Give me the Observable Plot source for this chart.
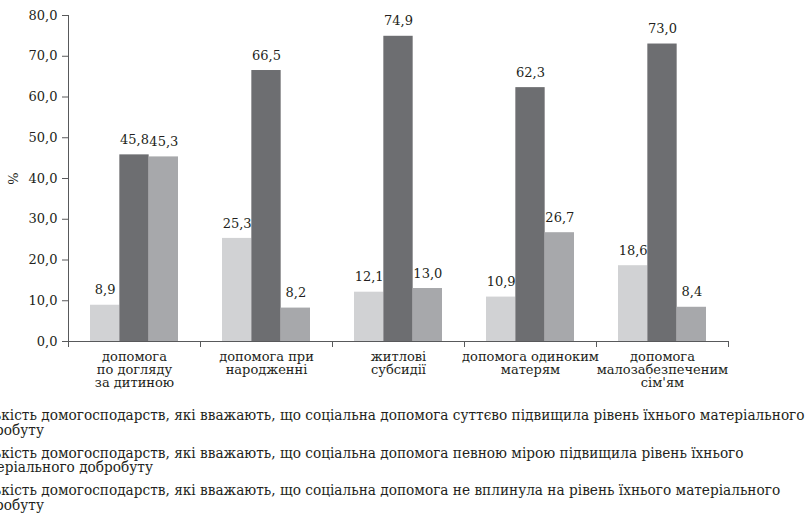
<!DOCTYPE html>
<html>
<head>
<meta charset="utf-8">
<script src="https://cdn.jsdelivr.net/npm/d3@7"></script>
<script src="https://cdn.jsdelivr.net/npm/@observablehq/plot@0.6"></script>
<style>
  html, body { margin: 0; padding: 0; background: #fff; overflow: hidden; width: 809px; height: 514px; }
  #chart svg { display: block; }
  #legend {
    position: relative;
    left: -28px;
    padding-top: 8px;
    font-family: "DejaVu Serif", "Liberation Serif", serif;
    font-size: 15px;
    line-height: 14.5px;
    color: #231f20;
    white-space: nowrap;
    transform: scaleX(0.912);
    transform-origin: 0 0;
  }
  #legend .item { display: flex; align-items: flex-start; margin-bottom: 8.5px; }
  #legend .sw { width: 12px; height: 12px; margin-right: 6px; margin-left: -20px; flex: none; }
</style>
</head>
<body>
<div id="chart"></div>
<div id="legend"></div>
<script>
// ---- data ----
const categories = [
  "допомога\nпо догляду\nза дитиною",
  "допомога при\nнародженні",
  "житлові\nсубсидії",
  "допомога одиноким\nматерям",
  "допомога\nмалозабезпеченим\nсім'ям"
];
const seriesNames = [
  "Кількість домогосподарств, які вважають, що соціальна допомога суттєво підвищила рівень їхнього матеріального\nдобробуту",
  "Кількість домогосподарств, які вважають, що соціальна допомога певною мірою підвищила рівень їхнього\nматеріального добробуту",
  "Кількість домогосподарств, які вважають, що соціальна допомога  не вплинула на рівень їхнього матеріального\nдобробуту"
];
const seriesKeys = ["s1", "s2", "s3"];
const valuesSignificant = [8.9, 25.3, 12.1, 10.9, 18.6];
const valuesSomewhat = [45.8, 66.5, 74.9, 62.3, 73.0];
const valuesNone = [45.3, 8.2, 13.0, 26.7, 8.4];
const colors = ["#d1d2d4", "#6d6e71", "#a7a8ab"];
const yTicks = [0, 10, 20, 30, 40, 50, 60, 70, 80];

const seriesValues = [valuesSignificant, valuesSomewhat, valuesNone];
const data = [];
categories.forEach((c, i) => {
  seriesKeys.forEach((s, j) => {
    data.push({category: c, series: s, value: seriesValues[j][i]});
  });
});

const fmt = d => d.toFixed(1).replace(".", ",");
const serif = "DejaVu Serif, Liberation Serif, serif";

const chart = Plot.plot({
  width: 809,
  height: 400,
  marginLeft: 67,
  marginRight: 80,
  marginTop: 15,
  marginBottom: 59,
  style: {fontFamily: serif, fontSize: "13px", color: "#231f20", background: "#fff"},
  fx: {domain: categories, padding: 0, label: null},
  x: {domain: seriesKeys, paddingInner: 0, paddingOuter: 0.75, axis: null, round: false},
  y: {domain: [0, 80], label: null},
  color: {domain: seriesKeys, range: colors},
  marks: [
    Plot.barY(data, {fx: "category", x: "series", y: "value", fill: "series"}),
    Plot.text(data, {fx: "category", x: "series", y: "value", text: d => fmt(d.value), dy: -15, fill: "#231f20", fontSize: 13}),
    Plot.axisY({
      ticks: yTicks, tickFormat: fmt, tickSize: 6, tickPadding: 5,
      stroke: "#58595b", strokeWidth: 1, fontSize: 13,
      label: "%", labelAnchor: "center", labelArrow: "none", labelOffset: 60
    }),
    Plot.axisFx({anchor: "bottom", tickSize: 0, tickPadding: 10, lineHeight: 1.02, fontSize: 13, label: null})
  ]
});
document.getElementById("chart").appendChild(chart);

// axis lines and category boundary ticks, placed through the chart's own scales
const fxS = chart.scale("fx");
const yS = chart.scale("y");
const y0 = yS.apply(0);
const yTop = yS.apply(80);
const starts = categories.map(c => fxS.apply(c));
const bw = fxS.bandwidth;
const x0 = starts[0];
const x1 = starts[starts.length - 1] + bw;
const svg = d3.select(chart);
const g = svg.append("g").attr("stroke", "#58595b").attr("stroke-width", 1).attr("fill", "none");
g.append("line").attr("x1", x0 + 0.5).attr("x2", x0 + 0.5).attr("y1", yTop).attr("y2", y0);
g.append("line").attr("x1", x0).attr("x2", x1).attr("y1", y0 + 0.5).attr("y2", y0 + 0.5);
[...starts, x1].forEach(x => {
  g.append("line").attr("x1", x + 0.5).attr("x2", x + 0.5).attr("y1", y0).attr("y2", y0 + 6);
});

// legend
const legend = d3.select("#legend");
seriesNames.forEach((name, i) => {
  const item = legend.append("div").attr("class", "item");
  item.append("div").attr("class", "sw").style("background", colors[i]);
  const t = item.append("div");
  name.split("\n").forEach((line, k) => {
    if (k) t.append("br");
    t.append("span").text(line);
  });
});
</script>
</body>
</html>
